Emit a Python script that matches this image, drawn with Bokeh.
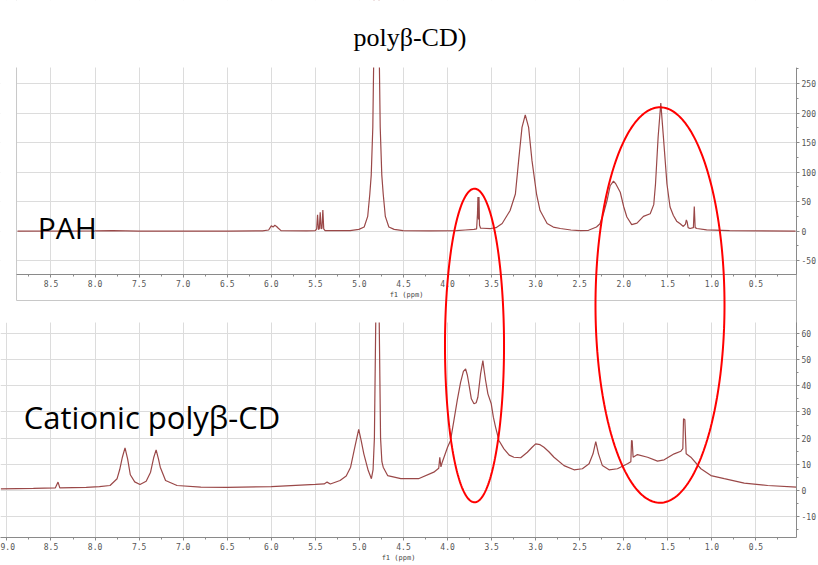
import numpy as np
from bokeh.plotting import figure
from bokeh.models import (Range1d, FixedTicker, PolyAnnotation, Label, LinearAxis,
                          BoxAnnotation, CustomJSTickFormatter, PrintfTickFormatter)
from bokeh.embed import file_html
from bokeh.resources import INLINE

# ---------------- data ----------------
title_text = "polyβ-CD)"
label_top = "PAH"
label_bottom = "Cationic polyβ-CD"
x_label = "f1 (ppm)"

pah_ppm = [8.88, 8.0, 7.8, 7.5, 6.5, 6.1, 6.03, 6.0, 5.98, 5.96, 5.94, 5.92, 5.89, 5.6,
           5.50, 5.485, 5.475, 5.465, 5.455, 5.445, 5.435, 5.425, 5.415, 5.405, 5.39,
           5.2, 5.106, 5.006, 4.946, 4.906, 4.882, 4.866, 4.848, 4.839, 4.826, 4.816, 4.806,
           4.796, 4.786, 4.773, 4.764, 4.746, 4.730, 4.706, 4.666, 4.606, 4.506,
           4.2, 3.9, 3.8, 3.7, 3.67, 3.66, 3.655, 3.648, 3.643, 3.637, 3.625, 3.6,
           3.51, 3.45, 3.38, 3.29, 3.23, 3.193, 3.155, 3.118, 3.08, 3.042, 2.99, 2.95, 2.87,
           2.80, 2.72, 2.6, 2.5, 2.4, 2.31, 2.27, 2.23, 2.19, 2.155, 2.117, 2.09, 2.04, 2.0,
           1.965, 1.91, 1.85, 1.777, 1.70, 1.66, 1.64, 1.61, 1.58, 1.55, 1.51, 1.475, 1.437,
           1.40, 1.36, 1.324, 1.30, 1.29, 1.28, 1.27, 1.248, 1.21, 1.20, 1.19, 1.17, 1.06,
           0.8, 0.05]
pah_int = [0, 0.5, 1, 0, 0, 0.5, 2, 9, 7, 10, 8, 5, 1, 0.5,
           1, 4, 28, 3, 4, 32, 4, 5, 36, 4, 1,
           1, 1, 3, 7, 25, 63, 95, 176, 277, 600, 1200, 3000,
           1200, 600, 277, 176, 95, 63, 25, 7, 3, 1,
           0.5, 1, 2, 3, 4, 30, 58, 20, 58, 10, 5, 5,
           4.5, 6, 13, 35, 63, 120, 176, 197, 176, 120, 63, 35, 13,
           7, 4.5, 2, 1, 1.5, 7, 12.5, 30, 52, 77, 85, 80, 66, 41,
           24, 11, 13.6, 25, 29.5, 45, 80, 160, 217, 159, 80, 41, 26.6,
           17, 12.5, 8, 12, 19, 15, 6, 4.5, 6, 42, 6, 4.5, 2.2,
           1, 0]

cat_ppm = [9.07, 8.7, 8.45, 8.42, 8.40, 8.1, 7.95, 7.83, 7.75, 7.72, 7.69, 7.66, 7.63,
           7.60, 7.55, 7.49, 7.42, 7.37, 7.335, 7.307, 7.28, 7.26, 7.2, 7.07, 6.8, 6.5,
           6.0, 5.5, 5.4, 5.367, 5.33, 5.22, 5.15, 5.10, 5.06, 5.03, 5.008, 4.98, 4.95,
           4.90, 4.864, 4.845, 4.83, 4.818, 4.81, 4.795, 4.78, 4.772, 4.76, 4.745, 4.73,
           4.68, 4.53, 4.33, 4.156, 4.10, 4.088, 4.075, 4.06, 4.0, 3.966, 3.928, 3.89,
           3.852, 3.82, 3.795, 3.775, 3.758, 3.73, 3.70, 3.675, 3.656, 3.625, 3.599, 3.585,
           3.568, 3.542, 3.504, 3.48, 3.455, 3.417, 3.36, 3.30, 3.247, 3.17, 3.094, 3.04,
           3.0, 2.95, 2.906, 2.85, 2.792, 2.678, 2.565, 2.47, 2.394, 2.349, 2.318, 2.287,
           2.243, 2.167, 2.072, 1.958, 1.92, 1.912, 1.905, 1.894, 1.845, 1.73, 1.617,
           1.542, 1.428, 1.352, 1.33, 1.322, 1.307, 1.292, 1.239, 1.125, 1.011, 0.86,
           0.633, 0.367, 0.04]
cat_int = [0.6, 0.8, 1.0, 3.2, 1.0, 1.2, 1.5, 1.9, 4.5, 8, 12.7, 16.3, 12,
           6, 3.3, 2.3, 3.5, 7, 12.5, 15.5, 12, 8.9, 3.8, 1.9, 1.3, 1.2,
           1.5, 2.3, 2.5, 3.2, 2.5, 3.8, 5.5, 8.9, 15.3, 20, 23.3, 19, 14,
           7.6, 4.5, 8, 20, 55, 78, 80, 78, 55, 20, 11, 8.9,
           5.7, 4.5, 4.5, 7.0, 8.5, 12.7, 9, 10.8, 16.5, 19.1, 26.7, 34.4,
           41.3, 45.5, 46.4, 44, 40.7, 35, 33.1, 33.5, 35.6, 44.5, 49.6, 46,
           42, 36.9, 33.1, 28, 24.2, 19.1, 15.9, 13.5, 12.7, 12.5, 14.6, 16.5,
           17.8, 17.5, 16.5, 14.8, 12.7, 9.5, 7.9, 8.3, 10.2, 14, 18.7, 14,
           9.5, 7.9, 8.3, 10.2, 11, 19.1, 19, 12.7, 13.7, 12.7, 11.2,
           11.7, 14, 15, 16, 27.4, 27, 14, 12.7, 8.3, 5.7, 4.5,
           2.8, 1.9, 1.3]

x_ticks_bottom = [9.0, 8.5, 8.0, 7.5, 7.0, 6.5, 6.0, 5.5, 5.0, 4.5, 4.0, 3.5, 3.0, 2.5, 2.0, 1.5, 1.0, 0.5]
x_ticks_top = [8.5, 8.0, 7.5, 7.0, 6.5, 6.0, 5.5, 5.0, 4.5, 4.0, 3.5, 3.0, 2.5, 2.0, 1.5, 1.0, 0.5]
x_minor = [9.0 - 0.25 * i for i in range(37)]
top_y_ticks = [-50, 0, 50, 100, 150, 200, 250]
top_y_minor = [-50 + 25 * i for i in range(14)]
bot_y_ticks = [-10, 0, 10, 20, 30, 40, 50, 60]
bot_y_minor = [-15 + 5 * i for i in range(16)]

# ellipse annotations: centre ppm, half width ppm, top (PAH units), bottom (cationic units)
ell_center = [3.694, 1.589]
ell_halfw = [0.335, 0.732]
ell_top = [72, 210]
ell_bottom = [-4.5, -4.7]

# ---------------- geometry ----------------
LINE = "#9a4848"
GRID = "#dcdcdc"
W, H = 818, 565
B_LEFT, B_RIGHT, B_TOP, B_BOT = 0, 22, 0, 28
FW, FH = W - B_LEFT - B_RIGHT, H - B_TOP - B_BOT
FRAME_TOP = B_TOP

X_RANGE = (9.073, 0.040)          # ppm, reversed
B_YR = (-17.95, 187.09)           # cationic intensity units over whole frame
T_YR = (-519.2, 391.0)            # PAH intensity units over whole frame

# panel limits in page pixels (as in the reference)
TOP_PANEL_TOP_PX = 67
TOP_PANEL_BOTTOM_PX = 274
TOP_BOX_BOTTOM_PX = 300
BOT_PANEL_TOP_PX = 322
TOP_PANEL_LEFT_PPM = 8.891
TITLE_LEFT_PPM = 5.067
TITLE_BASELINE_PX = 37


def px_from_top(v):
    return FRAME_TOP + (T_YR[1] - v) / (T_YR[1] - T_YR[0]) * FH


def px_from_bot(v):
    return FRAME_TOP + (B_YR[1] - v) / (B_YR[1] - B_YR[0]) * FH


def bot_from_px(px):
    return B_YR[1] - (px - FRAME_TOP) / FH * (B_YR[1] - B_YR[0])


def top_to_bot(v):
    return bot_from_px(px_from_top(v))


p = figure(frame_width=FW, frame_height=FH, x_range=Range1d(*X_RANGE), y_range=Range1d(*B_YR),
           output_backend="svg", toolbar_location=None, y_axis_location="right",
           min_border_left=B_LEFT, min_border_right=B_RIGHT, min_border_top=B_TOP,
           min_border_bottom=B_BOT,
           background_fill_color="white", border_fill_color="white")
p.title.visible = False
p.extra_y_ranges = {"top": Range1d(*T_YR)}
p.outline_line_color = None


def style_axis(ax):
    ax.major_label_text_font = "DejaVu Sans Mono"
    ax.major_label_text_font_size = "8px"
    ax.major_label_text_color = "#555555"
    ax.axis_line_color = "#8a8a8a"
    ax.major_tick_line_color = "#8a8a8a"
    ax.minor_tick_line_color = "#8a8a8a"
    ax.major_tick_in = 0
    ax.major_tick_out = 3
    ax.minor_tick_in = 0
    ax.minor_tick_out = 2
    ax.major_label_standoff = 2


# bottom x axis (cationic panel)
p.xaxis.ticker = FixedTicker(ticks=x_ticks_bottom, minor_ticks=x_minor)
p.xaxis.formatter = PrintfTickFormatter(format="%.1f")
p.xaxis.axis_label = x_label
for ax in p.xaxis:
    style_axis(ax)
    ax.axis_label_text_font = "DejaVu Sans Mono"
    ax.axis_label_text_font_size = "7px"
    ax.axis_label_text_font_style = "normal"
    ax.axis_label_text_color = "#444444"
    ax.axis_label_standoff = 1

# right y axis: both panels' ticks, labelled with each panel's own values
y_pos = [float(v) for v in bot_y_ticks] + [float(top_to_bot(v)) for v in top_y_ticks]
y_lab = [str(v) for v in bot_y_ticks] + [str(v) for v in top_y_ticks]
y_minor_pos = [float(v) for v in bot_y_minor] + [float(top_to_bot(v)) for v in top_y_minor]
p.yaxis.ticker = FixedTicker(ticks=y_pos, minor_ticks=y_minor_pos)
p.yaxis.formatter = CustomJSTickFormatter(args=dict(pos=y_pos, lab=y_lab), code="""
    let best = 0, bd = 1e12;
    for (let i = 0; i < pos.length; i++) {
        const d = Math.abs(pos[i] - tick);
        if (d < bd) { bd = d; best = i; }
    }
    return lab[best];
""")
p.yaxis.bounds = (B_YR[0], bot_from_px(TOP_PANEL_TOP_PX))
for ax in p.yaxis:
    style_axis(ax)

p.xgrid.grid_line_color = GRID
p.ygrid.grid_line_color = GRID

# spectra
p.line(pah_ppm, pah_int, line_color=LINE, line_width=1.2, y_range_name="top")
p.line(cat_ppm, cat_int, line_color=LINE, line_width=1.2)

# white gap between the two panels and left strip beside the upper panel
gap_top = bot_from_px(TOP_PANEL_BOTTOM_PX)
gap_bot = bot_from_px(BOT_PANEL_TOP_PX)
p.add_layout(BoxAnnotation(bottom=gap_bot, top=gap_top, fill_color="white", fill_alpha=1,
                           line_color=None))
p.add_layout(BoxAnnotation(right=TOP_PANEL_LEFT_PPM, bottom=gap_bot, fill_color="white",
                           fill_alpha=1, line_color=None))
# light box round the upper panel (left and bottom edges)
p.add_layout(BoxAnnotation(left=TOP_PANEL_LEFT_PPM, right=-1.0,
                           bottom=bot_from_px(TOP_BOX_BOTTOM_PX), top=B_YR[1] + 50,
                           fill_alpha=0, line_color="#c8c8c8", line_width=1, line_alpha=1))
# white band above the upper panel (title area)
p.add_layout(BoxAnnotation(bottom=bot_from_px(TOP_PANEL_TOP_PX), top=B_YR[1] + 50,
                           left=X_RANGE[0] + 1, right=X_RANGE[1] - 1,
                           fill_color="white", fill_alpha=1, line_color=None))

# title text
p.add_layout(Label(x=TITLE_LEFT_PPM, y=bot_from_px(TITLE_BASELINE_PX), text=title_text,
                   text_font="Liberation Serif", text_font_size="26px", text_color="black",
                   text_baseline="alphabetic", level="overlay"))

# upper panel x axis, fixed under the upper spectrum
top_ax = LinearAxis(fixed_location=gap_top,
                    ticker=FixedTicker(ticks=x_ticks_top, minor_ticks=x_minor[1:]),
                    formatter=PrintfTickFormatter(format="%.1f"),
                    bounds=(X_RANGE[1], TOP_PANEL_LEFT_PPM), axis_label=x_label)
style_axis(top_ax)
top_ax.axis_label_text_font = "DejaVu Sans Mono"
top_ax.axis_label_text_font_size = "7px"
top_ax.axis_label_text_font_style = "normal"
top_ax.axis_label_text_color = "#444444"
top_ax.axis_label_standoff = 1
top_ax.level = "overlay"
p.add_layout(top_ax, "below")

# sample labels
p.add_layout(Label(x=8.65, y=top_to_bot(5.8), text=label_top, text_font="Open Sans",
                   text_font_size="30px", text_color="black", text_baseline="alphabetic"))
p.add_layout(Label(x=8.809, y=28.2, text=label_bottom, text_font="Open Sans",
                   text_font_size="31px", text_color="black", text_baseline="alphabetic"))

# red ellipses spanning both panels
t = np.linspace(0, 2 * np.pi, 240)
for cx, hw, tv, bv in zip(ell_center, ell_halfw, ell_top, ell_bottom):
    ptop = px_from_top(tv)
    pbot = px_from_bot(bv)
    cy = (ptop + pbot) / 2
    hh = (pbot - ptop) / 2
    xs = cx + hw * np.cos(t)
    ys = bot_from_px(cy + hh * np.sin(t))
    p.add_layout(PolyAnnotation(xs=[float(v) for v in xs], ys=[float(v) for v in ys],
                                fill_alpha=0, line_color="#ff0000", line_width=2,
                                line_alpha=1, level="overlay"))

open("out.html", "w").write(file_html(p, INLINE))
